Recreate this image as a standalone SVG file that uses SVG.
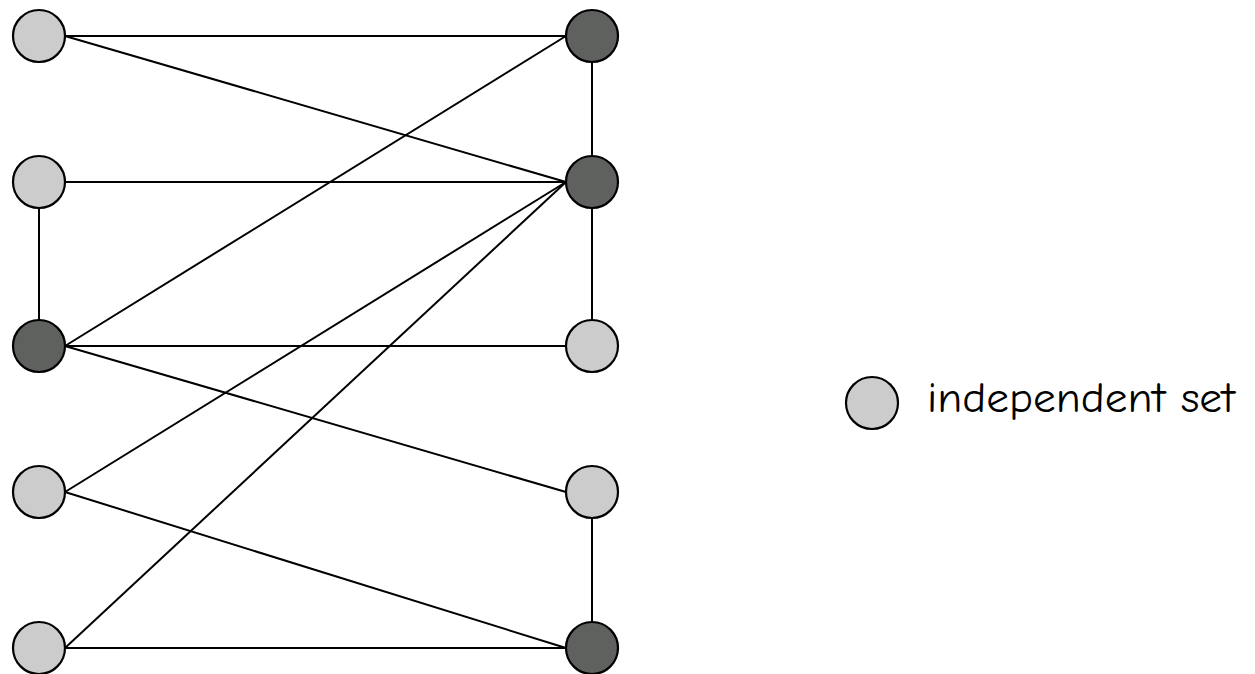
<svg xmlns="http://www.w3.org/2000/svg" width="1255" height="674" viewBox="0 0 1255 674">
<style>
.e{stroke:#000;stroke-width:2;fill:none}
.n{stroke:#000;stroke-width:2.2}
.lt{fill:#cccccc}
.dk{fill:#5f615f}
.lbl{font-family:"Comic Sans MS","Comic Neue","DejaVu Sans",sans-serif;font-size:42px;fill:#000}
</style>
<rect width="1255" height="674" fill="#fff"/>
<g id="edges">
<line class="e" x1="65" y1="36" x2="566" y2="36"/>
<line class="e" x1="65" y1="36" x2="566" y2="182"/>
<line class="e" x1="65" y1="182" x2="566" y2="182"/>
<line class="e" x1="39" y1="208" x2="39" y2="320"/>
<line class="e" x1="65" y1="346" x2="566" y2="36"/>
<line class="e" x1="65" y1="346" x2="566" y2="346"/>
<line class="e" x1="65" y1="346" x2="566" y2="492"/>
<line class="e" x1="65" y1="492" x2="566" y2="182"/>
<line class="e" x1="65" y1="492" x2="566" y2="648"/>
<line class="e" x1="65" y1="648" x2="566" y2="182"/>
<line class="e" x1="65" y1="648" x2="566" y2="648"/>
<line class="e" x1="592" y1="62" x2="592" y2="156"/>
<line class="e" x1="592" y1="208" x2="592" y2="320"/>
<line class="e" x1="592" y1="518" x2="592" y2="622"/>
</g>
<g id="L1"><circle class="n lt" cx="39" cy="36" r="26"/></g>
<g id="L2"><circle class="n lt" cx="39" cy="182" r="26"/></g>
<g id="L3"><circle class="n dk" cx="39" cy="346" r="26"/></g>
<g id="L4"><circle class="n lt" cx="39" cy="492" r="26"/></g>
<g id="L5"><circle class="n lt" cx="39" cy="648" r="26"/></g>
<g id="R1"><circle class="n dk" cx="592" cy="36" r="26"/></g>
<g id="R2"><circle class="n dk" cx="592" cy="182" r="26"/></g>
<g id="R3"><circle class="n lt" cx="592" cy="346" r="26"/></g>
<g id="R4"><circle class="n lt" cx="592" cy="492" r="26"/></g>
<g id="R5"><circle class="n dk" cx="592" cy="648" r="26"/></g>
<g id="legend">
<circle class="n lt" cx="872" cy="403" r="26"/>
<text class="lbl" x="927" y="412" textLength="308" lengthAdjust="spacingAndGlyphs">independent set</text>
</g>
</svg>
